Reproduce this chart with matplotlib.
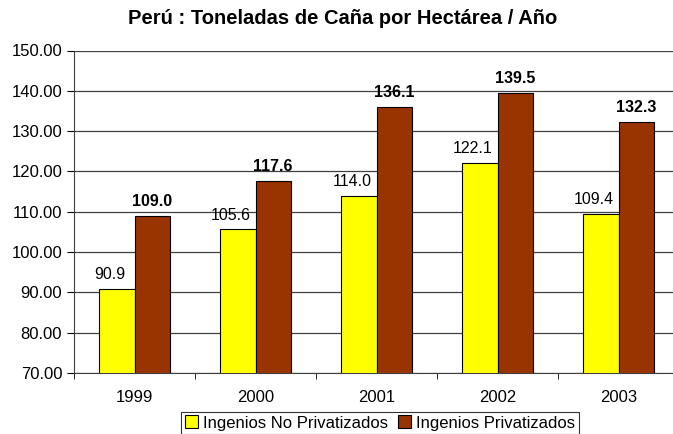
import matplotlib.pyplot as plt
import numpy as np

plt.rcParams['font.family'] = ['Liberation Sans', 'DejaVu Sans']

# datos
anios = ['1999', '2000', '2001', '2002', '2003']
no_privatizados = [90.9, 105.6, 114.0, 122.1, 109.4]
privatizados = [109.0, 117.6, 136.1, 139.5, 132.3]

fig = plt.figure(figsize=(6.73, 4.34), dpi=100)
ax = fig.add_axes([74 / 673, 61 / 434, 605 / 673, 322.5 / 434])

x = np.arange(len(anios))
w = 0.29
b1 = ax.bar(x - w / 2, no_privatizados, w, color='#FFFF00', edgecolor='black', linewidth=0.8,
            label='Ingenios No Privatizados', zorder=3)
b2 = ax.bar(x + w / 2, privatizados, w, color='#993300', edgecolor='black', linewidth=0.8,
            label='Ingenios Privatizados', zorder=3)

for rect, v in zip(b1, no_privatizados):
    ax.annotate('%.1f' % v, (rect.get_x() + rect.get_width() / 2, v), xytext=(-5, 5),
                textcoords='offset points', ha='center', va='bottom', fontsize=11.5)
for rect, v in zip(b2, privatizados):
    ax.annotate('%.1f' % v, (rect.get_x() + rect.get_width() / 2, v), xytext=(0, 5),
                textcoords='offset points', ha='center', va='bottom', fontsize=11.5,
                fontweight='bold')

ax.set_ylim(70, 150)
ax.set_yticks(np.arange(70, 151, 10))
ax.set_yticklabels(['%.2f' % t for t in np.arange(70, 151, 10)], fontsize=12)
ax.set_xlim(-0.5, len(anios) - 0.5)
ax.set_xticks(x)
ax.set_xticklabels(anios, fontsize=12)
ax.set_xticks(np.arange(-0.5, len(anios), 1), minor=True)
ax.tick_params(axis='x', which='major', length=0, pad=12)
ax.tick_params(axis='x', which='minor', length=4, direction='out')
ax.tick_params(axis='y', length=5, direction='out', width=0.8)

ax.yaxis.grid(True, color='#404040', linewidth=0.9, zorder=0)
for s in ['top', 'right']:
    ax.spines[s].set_visible(False)
ax.spines['left'].set_color('#404040')
ax.spines['bottom'].set_color('#404040')

fig.text(343 / 673, 1 - 18 / 434, 'Perú : Toneladas de Caña por Hectárea / Año', ha='center', va='center',
         fontsize=14.5, fontweight='bold')

leg = fig.legend(handles=[b1, b2], loc='center', bbox_to_anchor=(380 / 673, 1 - 423 / 434), ncol=2,
                 fontsize=12, frameon=True, fancybox=False, edgecolor='black', handlelength=0.8,
                 handleheight=0.8, handletextpad=0.3, columnspacing=0.6, borderpad=0.2,
                 borderaxespad=0)
leg.get_frame().set_linewidth(0.8)

fig.savefig('out.png', dpi=100)
